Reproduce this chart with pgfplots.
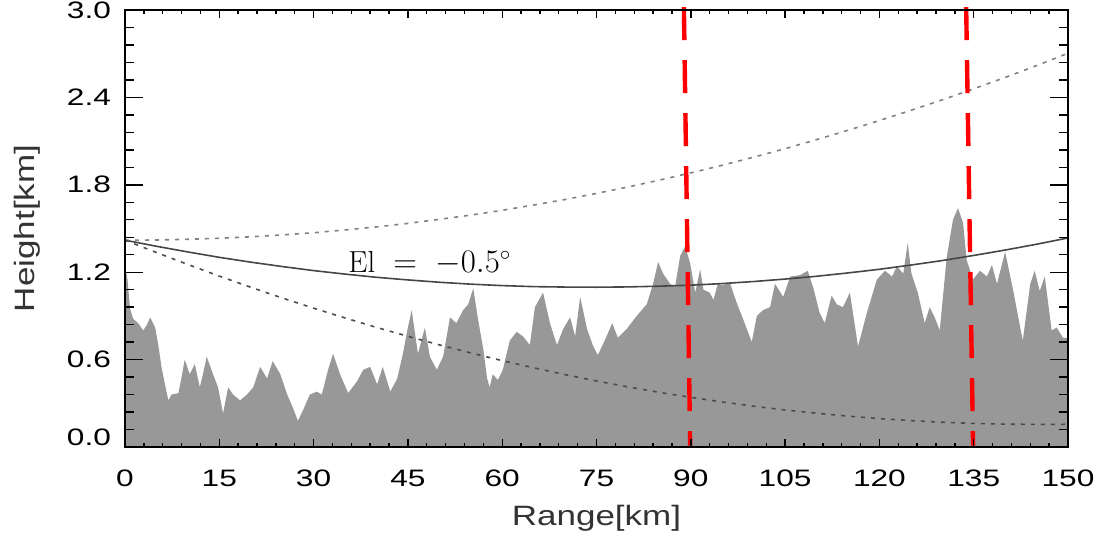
\documentclass[border=0pt]{standalone}
\usepackage{graphicx}
\usepackage{fontspec}
\newfontfamily\tickfont[FakeStretch=1.33]{Liberation Sans}
\newfontfamily\labfont[FakeStretch=1.25]{Liberation Sans}
\usepackage{pgfplots}
\pgfplotsset{compat=1.18}
\definecolor{terrain}{RGB}{152,152,152}
\definecolor{beam}{RGB}{70,70,70}

\pgfplotstableread{
x h
0 1.24
0.4 1.15
0.8 0.95
1.3 0.88
2.1 0.85
2.9 0.80
3.5 0.84
4.0 0.89
4.8 0.82
5.3 0.70
5.8 0.55
6.4 0.42
6.9 0.32
7.4 0.36
8.5 0.37
9.0 0.48
9.5 0.60
10.3 0.50
11.1 0.57
11.9 0.41
12.5 0.52
13.0 0.62
14.0 0.50
14.8 0.41
15.6 0.23
16.4 0.41
17.2 0.36
18.3 0.32
19.4 0.36
20.4 0.41
21.5 0.55
22.6 0.47
23.5 0.59
24.7 0.50
25.8 0.36
26.7 0.27
27.5 0.18
28.3 0.25
29.4 0.36
30.5 0.38
31.3 0.36
32.3 0.53
33.1 0.64
34.2 0.50
35.5 0.37
36.9 0.45
37.9 0.53
39.0 0.55
40.1 0.43
41.0 0.55
42.2 0.38
43.3 0.47
44.2 0.64
44.9 0.80
45.6 0.94
46.6 0.64
47.7 0.82
48.5 0.62
49.6 0.53
50.6 0.62
51.7 0.89
52.7 0.85
53.8 0.94
54.6 0.98
55.4 1.09
56.1 0.89
57.0 0.67
57.6 0.47
58.0 0.41
58.5 0.50
59.3 0.46
60.1 0.53
61.2 0.73
62.3 0.79
63.3 0.76
64.4 0.70
65.2 0.96
66.5 1.06
67.6 0.85
68.7 0.70
69.7 0.81
70.8 0.89
71.6 0.76
72.4 1.03
73.5 0.81
74.4 0.70
75.2 0.63
76.3 0.73
77.5 0.85
78.4 0.75
79.8 0.81
81.4 0.90
83.0 0.98
84.0 1.12
84.8 1.27
85.6 1.19
86.7 1.12
87.5 1.10
88.3 1.31
89.1 1.38
89.9 1.26
90.7 1.06
91.5 1.22
92.0 1.08
93.0 1.06
93.6 1.01
94.3 1.12
95.1 1.11
96.2 1.13
97.3 0.99
98.3 0.88
99.7 0.72
100.5 0.90
101.5 0.94
102.6 0.96
103.4 1.12
104.7 1.03
105.8 1.17
107.4 1.18
108.6 1.21
109.5 1.09
110.5 0.92
111.3 0.85
112.4 1.04
113.2 0.98
114.2 0.96
115.3 1.06
116.6 0.69
118.0 0.92
119.6 1.15
120.9 1.21
122.0 1.17
122.8 1.24
123.8 1.19
124.5 1.40
125.1 1.19
126.1 1.06
127.2 0.85
128.0 0.96
128.8 0.89
129.6 0.80
130.7 1.30
131.7 1.56
132.5 1.64
133.3 1.54
133.9 1.28
134.9 1.15
136.0 1.21
137.1 1.17
137.9 1.25
138.7 1.12
140.0 1.34
141.3 1.07
142.8 0.73
144.0 1.12
144.7 1.21
145.5 1.07
146.3 1.17
147.4 0.80
148.2 0.82
149.2 0.75
150 0.75
}\terraintable

\pgfplotstableread{
x mid up low
0 1.420 1.420 1.420
5 1.378 1.421 1.335
10 1.339 1.426 1.253
15 1.302 1.433 1.173
20 1.269 1.443 1.097
25 1.239 1.456 1.023
30 1.211 1.471 0.953
35 1.187 1.490 0.886
40 1.165 1.511 0.821
45 1.147 1.535 0.760
50 1.131 1.563 0.701
55 1.118 1.592 0.646
60 1.108 1.625 0.593
65 1.101 1.661 0.544
70 1.098 1.699 0.497
75 1.097 1.741 0.453
80 1.099 1.785 0.413
85 1.104 1.832 0.375
90 1.111 1.882 0.341
95 1.122 1.934 0.309
100 1.136 1.990 0.280
105 1.153 2.048 0.254
110 1.172 2.110 0.232
115 1.195 2.174 0.212
120 1.220 2.241 0.195
125 1.249 2.311 0.181
130 1.280 2.383 0.170
135 1.315 2.459 0.162
140 1.352 2.537 0.157
145 1.392 2.618 0.155
150 1.435 2.703 0.156
}\beamtable

\begin{document}
\begin{tikzpicture}
\begin{axis}[
  scale only axis,
  width=471.5pt, height=218.5pt,
  xmin=0, xmax=150, ymin=0, ymax=3,
  xtick={0,15,30,45,60,75,90,105,120,135,150},
  xticklabels={0,15,30,45,60,75,90,105,120,135,150},
  ytick={0,0.6,1.2,1.8,2.4,3.0},
  yticklabels={\raisebox{10pt}{0.0},0.6,1.2,1.8,2.4,\raisebox{-6pt}{3.0}},
  minor x tick num=4, minor y tick num=4,
  tick align=inside,
  axis line style={line width=1pt},
  every tick/.style={black, line width=0.7pt},
  major tick length=9pt, minor tick length=4.5pt,
  xtick style={/pgfplots/major tick length=4pt,/pgfplots/minor tick length=2.2pt},
  ticklabel style={font=\tickfont\fontsize{11.9}{12}\selectfont},
  xticklabel style={yshift=-8pt},
  yticklabel style={xshift=-3.5pt},
  xlabel={Range[km]}, ylabel={Height[km]},
  label style={font=\labfont\fontsize{14}{15}\selectfont, text=black!80},
  xlabel style={at={(axis description cs:0.5,-0.1625)}, anchor=center},
  ylabel style={at={(axis description cs:-0.104,0.5)}, anchor=center},
  clip=false,
  axis on top,
]
\addplot[fill=terrain, draw=none] table[x=x, y=h] {\terraintable} \closedcycle;
\addplot[beam, line width=0.8pt] table[x=x, y=mid] {\beamtable};
\addplot[black!50, line width=0.8pt, dash pattern=on 2pt off 3pt] table[x=x, y=up] {\beamtable};
\addplot[black!70, line width=0.8pt, dash pattern=on 2pt off 3pt] table[x=x, y=low] {\beamtable};
\addplot[red, line width=2.2pt, dash pattern=on 16.5pt off 10pt] coordinates {(88.9,3.02) (89.9,0.01)};
\addplot[red, line width=2.2pt, dash pattern=on 16.5pt off 10pt] coordinates {(133.8,3.02) (134.9,0.01)};
\node[font=\fontsize{16}{18}\selectfont, inner sep=0pt] at (axis cs:48.5,1.26) {\scalebox{0.95}{$\mathrm{El}\ =\ -0.5^{\circ}$}};
\end{axis}
\pgfresetboundingbox
\path[use as bounding box] (-62.5pt,-44.5pt) rectangle (488pt,223.5pt);
\end{tikzpicture}
\end{document}
